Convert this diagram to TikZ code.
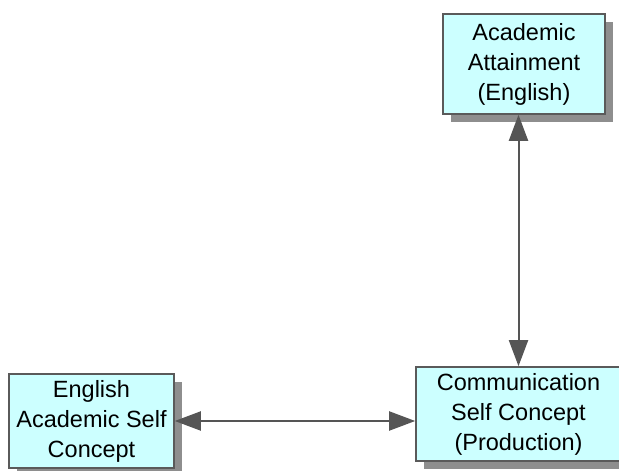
\documentclass[tikz,border=0pt]{standalone}
\usepackage{fontspec}
\newfontfamily\boxfont{Liberation Sans}
\usetikzlibrary{arrows.meta,shadows}
\definecolor{boxfill}{HTML}{CCFFFF}
\definecolor{boxline}{HTML}{5A5A5A}
\definecolor{shadowgrey}{HTML}{8E8E8E}
\definecolor{linkgrey}{HTML}{555555}
\tikzset{
  concept/.style={draw=boxline, line width=1.6pt, fill=boxfill,
    rectangle, inner sep=0pt, align=center,
    font=\boxfont\fontsize{23.5}{30}\selectfont,
    drop shadow={shadow xshift=8pt, shadow yshift=-8pt, fill=shadowgrey, opacity=1}},
  link/.style={draw=linkgrey, line width=2pt,
    {Triangle[length=26pt,width=19pt]}-{Triangle[length=26pt,width=19pt]}}
}
\begin{document}
\begin{tikzpicture}[x=1pt,y=1pt]
  \useasboundingbox (0,0) rectangle (619,471);
  % the three concept boxes
  \node[concept, minimum width=162pt, minimum height=100pt] (att) at (524,407)
    {Academic\\Attainment\\(English)};
  \node[concept, minimum width=165pt, minimum height=94pt] (eng) at (91.5,50)
    {English\\Academic Self\\Concept};
  \node[concept, minimum width=205pt, minimum height=94pt] (com) at (518.5,57)
    {Communication\\Self Concept\\(Production)};
  % two-way links
  \draw[link] (com.north |- att.south) -- (com.north);
  \draw[link] (eng.east) -- (eng.east -| com.west);
\end{tikzpicture}
\end{document}
